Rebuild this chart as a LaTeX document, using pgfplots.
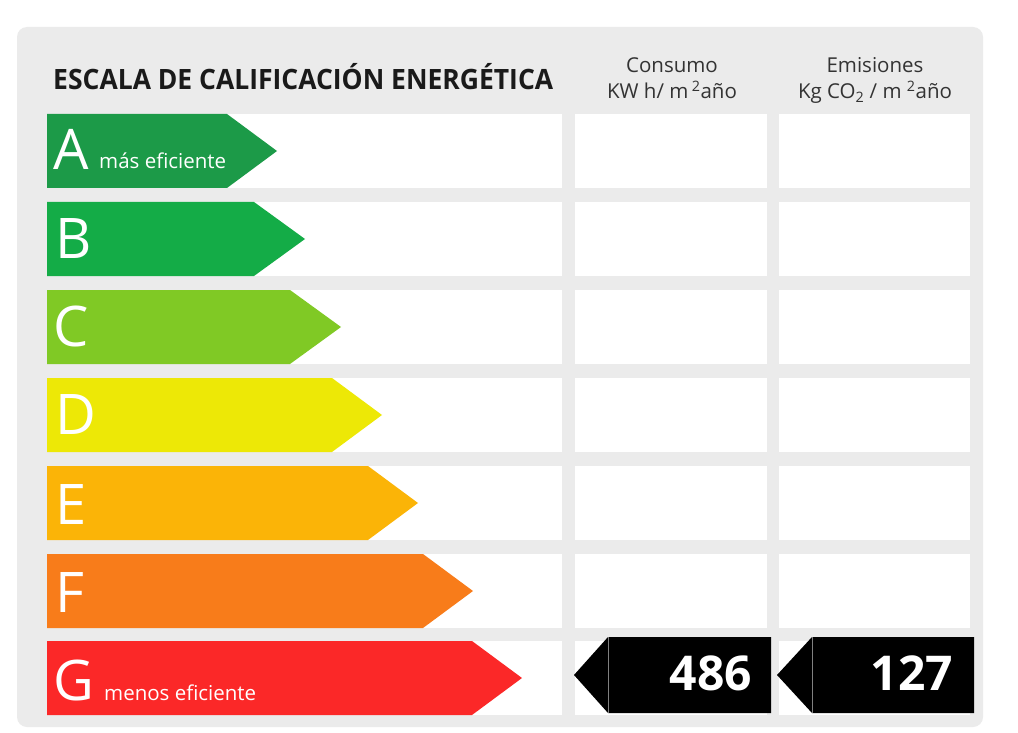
\documentclass[border=0pt]{standalone}
\usepackage{pgfplots}
\pgfplotsset{compat=1.18}
\usepackage{fontspec}
\setmainfont{Open Sans}
\definecolor{panel}{HTML}{EBEBEB}
\definecolor{cA}{HTML}{1C9A48}
\definecolor{cB}{HTML}{14AC47}
\definecolor{cC}{HTML}{80C925}
\definecolor{cD}{HTML}{EDE806}
\definecolor{cE}{HTML}{FBB407}
\definecolor{cF}{HTML}{F87C1A}
\definecolor{cG}{HTML}{FB2828}
\definecolor{hdr}{HTML}{333333}
\definecolor{ttl}{HTML}{1A1A1A}
\newcommand\whiterow[2]{%
 \addplot[fill=white,draw=none] coordinates {(47,#1)(562,#1)(562,#2)(47,#2)} -- cycle;
 \addplot[fill=white,draw=none] coordinates {(575,#1)(767,#1)(767,#2)(575,#2)} -- cycle;
 \addplot[fill=white,draw=none] coordinates {(779,#1)(970,#1)(970,#2)(779,#2)} -- cycle;}
% color, top, bottom, middle, body end, tip
\newcommand\arrowrow[6]{%
 \addplot[fill=#1,draw=none] coordinates {(47,#2)(#5,#2)(#6,#4)(#5,#3)(47,#3)} -- cycle;}
\newcommand\letter[3]{\node[anchor=base west,text=white,font=\fontsize{56}{56}\selectfont,inner sep=0pt] at (axis cs:#1,#2) {#3};}
\begin{document}
\begin{tikzpicture}
\begin{axis}[width=1018pt,height=733pt,scale only axis,
  xmin=0,xmax=1018,ymin=0,ymax=733,y dir=reverse,
  hide axis,clip=false]
\addplot[fill=white,draw=none] coordinates {(0,0)(1018,0)(1018,733)(0,733)} -- cycle;
\addplot[fill=panel,draw=none,rounded corners=10pt] coordinates {(500,27)(983,27)(983,727)(17,727)(17,27)} -- cycle;
\whiterow{114}{188}
\whiterow{202}{276}
\whiterow{290}{364}
\whiterow{378}{452}
\whiterow{466}{540}
\whiterow{554}{628}
\whiterow{641}{715}
\arrowrow{cA}{114}{188}{151}{227}{277}
\arrowrow{cB}{202}{276}{239}{254}{305}
\arrowrow{cC}{290}{364}{327}{290}{341}
\arrowrow{cD}{378}{452}{415}{332}{382}
\arrowrow{cE}{466}{540}{503}{368}{418}
\arrowrow{cF}{554}{628}{591}{423}{473}
\arrowrow{cG}{641}{715}{678}{472}{522}
% result arrows
\addplot[fill=black,draw=none] coordinates {(574,675)(608,637)(771,637)(771,713)(608,713)} -- cycle;
\addplot[fill=black,draw=none] coordinates {(777,675)(812,637)(974,637)(974,713)(812,713)} -- cycle;
\addplot[gray,line width=0.8pt] coordinates {(608,637)(608,713)};
\addplot[gray,line width=0.8pt] coordinates {(812,637)(812,713)};
\node[anchor=base east,text=white,font=\fontsize{48}{48}\selectfont\bfseries,inner sep=0pt] at (axis cs:752,690) {486};
\node[anchor=base east,text=white,font=\fontsize{48}{48}\selectfont\bfseries,inner sep=0pt] at (axis cs:953,690) {127};
% letters
\letter{53}{170}{A}
\letter{55}{258}{B}
\letter{53}{346}{C}
\letter{55}{434}{D}
\letter{55}{524}{E}
\letter{55}{612}{F}
\letter{53}{700}{G}
\node[anchor=base west,text=white,font=\fontsize{20.5}{20.5}\selectfont,inner sep=0pt] at (axis cs:99,168) {más eficiente};
\node[anchor=base west,text=white,font=\fontsize{20.5}{20.5}\selectfont,inner sep=0pt] at (axis cs:104,700) {menos eficiente};
% title
\node[anchor=base west,text=ttl,inner sep=0pt] at (axis cs:53,90) {\resizebox{500pt}{\height}{\fontsize{28}{28}\selectfont\bfseries ESCALA DE CALIFICACIÓN ENERGÉTICA}};
% headers
\node[anchor=base,text=hdr,font=\fontsize{20.5}{20.5}\selectfont,inner sep=0pt] at (axis cs:672,73) {Consumo};
\node[anchor=base,text=hdr,font=\fontsize{20.5}{20.5}\selectfont,inner sep=0pt] at (axis cs:672,99) {KW h/ m\,\textsuperscript{2}año};
\node[anchor=base,text=hdr,font=\fontsize{20.5}{20.5}\selectfont,inner sep=0pt] at (axis cs:875,73) {Emisiones};
\node[anchor=base,text=hdr,font=\fontsize{20.5}{20.5}\selectfont,inner sep=0pt] at (axis cs:875,99) {Kg CO\textsubscript{2} / m \textsuperscript{2}año};
\end{axis}
\end{tikzpicture}
\end{document}
